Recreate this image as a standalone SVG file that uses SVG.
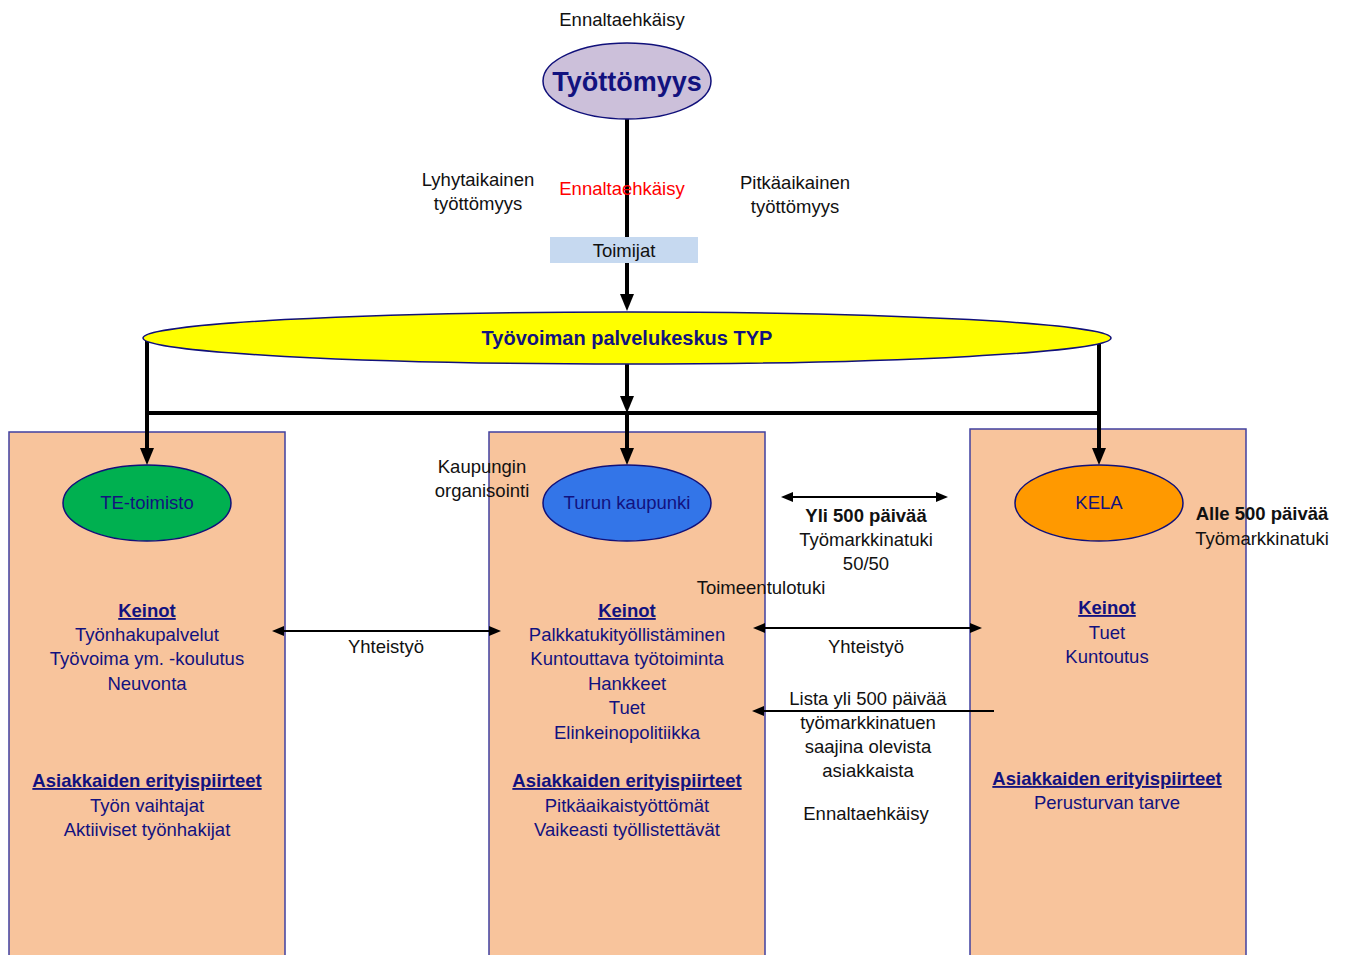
<svg xmlns="http://www.w3.org/2000/svg" width="1346" height="955" viewBox="0 0 1346 955">
<defs>
<style>
text{font-family:"Liberation Sans",Arial,sans-serif;font-size:18.5px;text-anchor:middle;fill:#111}
.nv{fill:#12127F}
.b{font-weight:bold}
.u{text-decoration:underline}
.box{fill:#F8C49C;stroke:#4040A0;stroke-width:1.5}
.ell{stroke:#10107A;stroke-width:1.5}
.thick{stroke:#000;stroke-width:4;fill:none}
.thin{stroke:#000;stroke-width:2;fill:none}
</style>
<marker id="ahB" viewBox="0 0 17 14" refX="1" refY="7" markerWidth="17" markerHeight="14" markerUnits="userSpaceOnUse" orient="auto-start-reverse"><path d="M0,0 L17,7 L0,14 z" fill="#000"/></marker>
<marker id="ahS" viewBox="0 0 12 10" refX="1" refY="5" markerWidth="12" markerHeight="10" markerUnits="userSpaceOnUse" orient="auto-start-reverse"><path d="M0,0 L12,5 L0,10 z" fill="#000"/></marker>
</defs>
<rect width="1346" height="955" fill="#fff"/>

<g id="box-te"><rect class="box" x="9" y="432" width="276" height="530"/></g>
<g id="box-turku"><rect class="box" x="489" y="432" width="276" height="530"/></g>
<g id="box-kela"><rect class="box" x="970" y="429" width="276" height="533"/></g>

<g id="connectors">
<line class="thick" x1="627" y1="119" x2="627" y2="295" marker-end="url(#ahB)"/>
<line class="thick" x1="147" y1="338" x2="147" y2="449" marker-end="url(#ahB)"/>
<line class="thick" x1="627" y1="364" x2="627" y2="397" marker-end="url(#ahB)"/>
<line class="thick" x1="627" y1="413" x2="627" y2="449" marker-end="url(#ahB)"/>
<line class="thick" x1="1099" y1="338" x2="1099" y2="449" marker-end="url(#ahB)"/>
<line class="thick" x1="145" y1="413" x2="1101" y2="413"/>
<line class="thin" x1="283" y1="631" x2="490" y2="631" marker-start="url(#ahS)" marker-end="url(#ahS)"/>
<line class="thin" x1="764" y1="628" x2="971" y2="628" marker-start="url(#ahS)" marker-end="url(#ahS)"/>
<line class="thin" x1="792" y1="497" x2="937" y2="497" marker-start="url(#ahS)" marker-end="url(#ahS)"/>
<line class="thin" x1="994" y1="711" x2="763" y2="711" marker-end="url(#ahS)"/>
</g>

<g id="node-tyottomyys">
<ellipse class="ell" cx="627" cy="81" rx="84" ry="38" fill="#CCC0DA"/>
<text x="627" y="91" class="nv b" style="font-size:27px">Työttömyys</text>
</g>

<g id="node-toimijat">
<rect x="550" y="237" width="148" height="26" fill="#C6D9F0"/>
<text x="624" y="257">Toimijat</text>
</g>

<g id="node-typ">
<ellipse class="ell" cx="627" cy="338" rx="484" ry="26" fill="#FFFF00"/>
<text x="627" y="345" class="nv b" style="font-size:20px">Työvoiman palvelukeskus TYP</text>
</g>

<g id="node-te">
<ellipse class="ell" cx="147" cy="503" rx="84" ry="38" fill="#00B050"/>
<text x="147" y="509" class="nv">TE-toimisto</text>
<text x="147" y="617" class="nv b u">Keinot</text>
<text x="147" y="641" class="nv">Työnhakupalvelut</text>
<text x="147" y="665" class="nv">Työvoima ym. -koulutus</text>
<text x="147" y="690" class="nv">Neuvonta</text>
<text x="147" y="787" class="nv b u">Asiakkaiden erityispiirteet</text>
<text x="147" y="812" class="nv">Työn vaihtajat</text>
<text x="147" y="836" class="nv">Aktiiviset työnhakijat</text>
</g>

<g id="node-turku">
<ellipse class="ell" cx="627" cy="503" rx="84" ry="38" fill="#3375E8"/>
<text x="627" y="509" class="nv">Turun kaupunki</text>
<text x="627" y="617" class="nv b u">Keinot</text>
<text x="627" y="641" class="nv">Palkkatukityöllistäminen</text>
<text x="627" y="665" class="nv">Kuntouttava työtoiminta</text>
<text x="627" y="690" class="nv">Hankkeet</text>
<text x="627" y="714" class="nv">Tuet</text>
<text x="627" y="739" class="nv">Elinkeinopolitiikka</text>
<text x="627" y="787" class="nv b u">Asiakkaiden erityispiirteet</text>
<text x="627" y="812" class="nv">Pitkäaikaistyöttömät</text>
<text x="627" y="836" class="nv">Vaikeasti työllistettävät</text>
</g>

<g id="node-kela">
<ellipse class="ell" cx="1099" cy="503" rx="84" ry="38" fill="#FF9900"/>
<text x="1099" y="509" class="nv">KELA</text>
<text x="1107" y="614" class="nv b u">Keinot</text>
<text x="1107" y="639" class="nv">Tuet</text>
<text x="1107" y="663" class="nv">Kuntoutus</text>
<text x="1107" y="785" class="nv b u">Asiakkaiden erityispiirteet</text>
<text x="1107" y="809" class="nv">Perusturvan tarve</text>
</g>

<g id="labels">
<text x="622" y="26">Ennaltaehkäisy</text>
<text x="478" y="186">Lyhytaikainen</text>
<text x="478" y="210">työttömyys</text>
<text x="622" y="195" style="fill:#FF0000">Ennaltaehkäisy</text>
<text x="795" y="189">Pitkäaikainen</text>
<text x="795" y="213">työttömyys</text>
<text x="482" y="473">Kaupungin</text>
<text x="482" y="497">organisointi</text>
<text x="866" y="522" class="b">Yli 500 päivää</text>
<text x="866" y="546">Työmarkkinatuki</text>
<text x="866" y="570">50/50</text>
<text x="761" y="594">Toimeentulotuki</text>
<text x="1262" y="520" class="b">Alle 500 päivää</text>
<text x="1262" y="545">Työmarkkinatuki</text>
<text x="386" y="653">Yhteistyö</text>
<text x="866" y="653">Yhteistyö</text>
<text x="868" y="705">Lista yli 500 päivää</text>
<text x="868" y="729">työmarkkinatuen</text>
<text x="868" y="753">saajina olevista</text>
<text x="868" y="777">asiakkaista</text>
<text x="866" y="820">Ennaltaehkäisy</text>
</g>
</svg>
